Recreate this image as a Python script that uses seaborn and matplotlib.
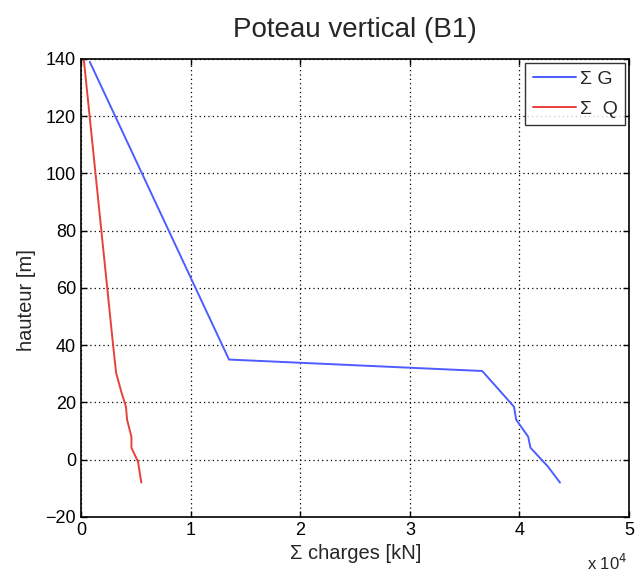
import matplotlib
matplotlib.use("Agg")
import matplotlib.pyplot as plt
import seaborn as sns
import pandas as pd

# Data (x in units of 1e4 kN, y = hauteur [m])
g_charge = [0.08, 1.35, 3.66, 3.80, 3.95, 3.97, 4.08, 4.10, 4.26, 4.37]
g_hauteur = [139, 35, 31, 25, 18.5, 14, 8, 4.2, -2.4, -8]
q_charge = [0.025, 0.29, 0.32, 0.37, 0.41, 0.42, 0.46, 0.46, 0.52, 0.55]
q_hauteur = [140, 41, 30.4, 23.4, 18.5, 14, 8, 4.2, -0.7, -8]
x_ticks = [0, 1, 2, 3, 4, 5]
y_ticks = [-20, 0, 20, 40, 60, 80, 100, 120, 140]

sns.set_theme(style="white")
plt.rcParams['font.family'] = ['Liberation Sans', 'DejaVu Sans']

fig = plt.figure(figsize=(6.41, 5.75), dpi=100)
ax = fig.add_axes([0.1264, 0.1009, 0.855, 0.7965])

dg = pd.DataFrame({"x": g_charge, "y": g_hauteur})
dq = pd.DataFrame({"x": q_charge, "y": q_hauteur})
sns.lineplot(data=dg, x="x", y="y", sort=False, estimator=None, color="#4d5dff",
             linewidth=1.4, label="\u03a3 G", ax=ax)
sns.lineplot(data=dq, x="x", y="y", sort=False, estimator=None, color="#e8403a",
             linewidth=1.4, label="\u03a3  Q", ax=ax)

ax.set_xlim(0, 5)
ax.set_ylim(-20, 140)
ax.set_xticks(x_ticks)
ax.set_yticks(y_ticks)
ax.set_xticklabels([str(t) for t in x_ticks])
ax.set_yticklabels([str(t).replace('-', '\u2212') for t in y_ticks])
ax.tick_params(direction='in', length=4, width=1, labelsize=13, colors='black',
               top=True, right=True, bottom=True, left=True)
ax.grid(True, linestyle=(0, (1, 2.5)), color='black', linewidth=0.9)
for s in ax.spines.values():
    s.set_color('black')
    s.set_linewidth(1.2)

ax.set_title("Poteau vertical (B1)", fontsize=20, pad=16)
ax.set_xlabel("\u03a3 charges [kN]", fontsize=14.5, va='center')
ax.xaxis.set_label_coords(0.502, -0.079)
ax.set_ylabel("hauteur [m]", fontsize=14.5, va='center')
ax.yaxis.set_label_coords(-0.1, 0.474)
fig.text(0.915, 0.003, r"x 10$^4$", fontsize=12, ha='left', va='bottom')

leg = ax.legend(loc='upper right', fontsize=14, frameon=True, fancybox=False,
                edgecolor='black', handlelength=2.2, borderaxespad=0.2,
                handletextpad=0.2, labelspacing=0.6, borderpad=0.4)
leg.get_frame().set_linewidth(1.0)

fig.savefig("out.png", dpi=100)
